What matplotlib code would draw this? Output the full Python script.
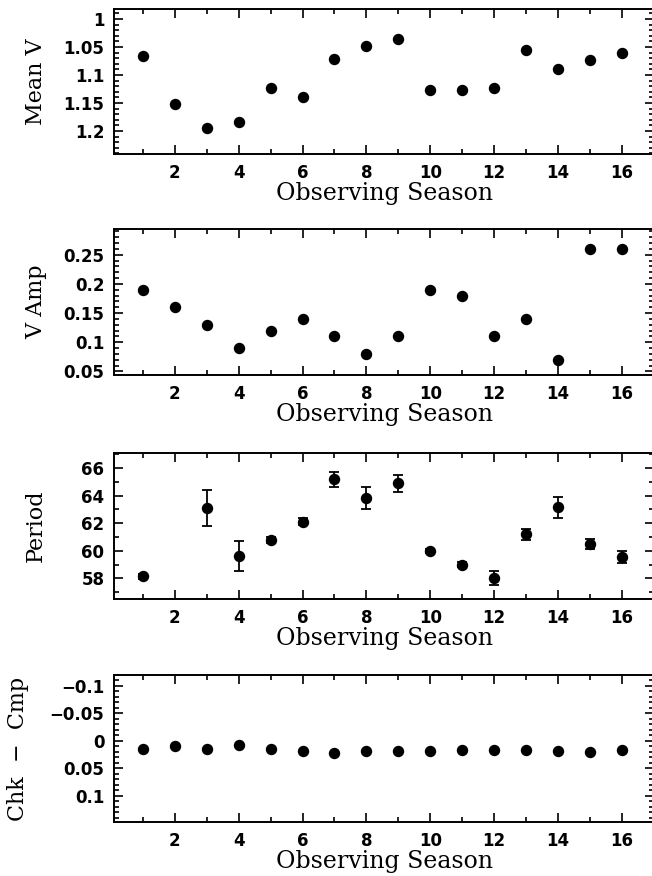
import numpy as np
import matplotlib.pyplot as plt
from matplotlib.ticker import MultipleLocator

#%% data
season = np.arange(1, 17)
mean_v = [1.066, 1.151, 1.194, 1.184, 1.124, 1.140, 1.071, 1.048,
          1.035, 1.127, 1.126, 1.123, 1.055, 1.089, 1.073, 1.061]
v_amp = [0.19, 0.16, 0.13, 0.09, 0.12, 0.14, 0.11, 0.08,
         0.11, 0.19, 0.18, 0.11, 0.14, 0.07, 0.26, 0.26]
# season 2 has no period
per_season = [1, 3, 4, 5, 6, 7, 8, 9, 10, 11, 12, 13, 14, 15, 16]
period = [58.15, 63.1, 59.63, 60.78, 62.1, 65.2, 63.8, 64.9,
          59.98, 59.0, 58.0, 61.2, 63.15, 60.5, 59.56]
period_err = [0.2, 1.3, 1.1, 0.2, 0.25, 0.55, 0.8, 0.6,
              0.15, 0.2, 0.5, 0.4, 0.75, 0.35, 0.45]
chk_cmp = [0.014, 0.010, 0.015, 0.008, 0.014, 0.018, 0.023, 0.018,
           0.018, 0.018, 0.016, 0.017, 0.016, 0.018, 0.021, 0.017]

#%% figure
W, H = 652, 876
fig = plt.figure(figsize=(W/100, H/100), dpi=100)

lab_font = dict(family='DejaVu Serif', size=17)
ylab_font = dict(family='DejaVu Serif', size=16)
tick_size = 12

# panel boxes in pixels: top, bottom
boxes = [(9, 154), (229, 375), (453, 599), (675, 822)]
x0, x1 = 114, 654

def make_ax(top, bot):
    ax = fig.add_axes([x0/W, 1-bot/H, (x1-x0)/W, (bot-top)/H])
    ax.set_xlim(0.1, 17)
    ax.xaxis.set_major_locator(MultipleLocator(2))
    ax.xaxis.set_minor_locator(MultipleLocator(1))
    ax.tick_params(which='both', direction='in', top=True, right=True, width=1.2)
    ax.tick_params(which='major', length=6.5)
    ax.tick_params(which='minor', length=3.4)
    for s in ax.spines.values():
        s.set_linewidth(1.4)
    ax.set_xlabel('Observing Season', labelpad=0.5, **lab_font)
    ax.tick_params(axis='x', pad=7)
    ax.tick_params(axis='y', pad=7)
    return ax

def label_y(ax, text, xpix):
    ax.set_ylabel(text, **ylab_font)
    ax.yaxis.label.set_va('center')
    ax.yaxis.set_label_coords((xpix - x0)/(x1 - x0), 0.5)

ms = 7.2

ax = make_ax(*boxes[0])
ax.plot(season, mean_v, 'o', color='k', ms=ms)
ax.set_ylim(1.241, 0.982)
ax.set_yticks([1, 1.05, 1.1, 1.15, 1.2])
ax.set_yticklabels(['1', '1.05', '1.1', '1.15', '1.2'])
ax.yaxis.set_minor_locator(MultipleLocator(0.01))
label_y(ax, 'Mean V', 36)

ax = make_ax(*boxes[1])
ax.plot(season, v_amp, 'o', color='k', ms=ms)
ax.set_ylim(0.044, 0.294)
ax.set_yticks([0.05, 0.1, 0.15, 0.2, 0.25])
ax.set_yticklabels(['0.05', '0.1', '0.15', '0.2', '0.25'])
ax.yaxis.set_minor_locator(MultipleLocator(0.01))
label_y(ax, 'V Amp', 36)

ax = make_ax(*boxes[2])
ax.errorbar(per_season, period, yerr=period_err, fmt='o', color='k', ms=ms,
            capsize=3.5, elinewidth=1.3, capthick=1.3)
ax.set_ylim(56.5, 67.1)
ax.set_yticks([58, 60, 62, 64, 66])
ax.yaxis.set_minor_locator(MultipleLocator(1))
label_y(ax, 'Period', 36)

ax = make_ax(*boxes[3])
ax.plot(season, chk_cmp, 'o', color='k', ms=ms)
ax.set_ylim(0.148, -0.12)
ax.set_yticks([-0.1, -0.05, 0, 0.05, 0.1])
ax.set_yticklabels(['\u22120.1', '\u22120.05', '0', '0.05', '0.1'])
ax.yaxis.set_minor_locator(MultipleLocator(0.01))
label_y(ax, 'Chk  \u2212  Cmp', 18)

for a in fig.axes:
    for lab in a.get_xticklabels() + a.get_yticklabels():
        lab.set_fontfamily('DejaVu Sans')
        lab.set_fontweight('bold')
        lab.set_fontsize(tick_size)

fig.savefig('out.png', dpi=100)
